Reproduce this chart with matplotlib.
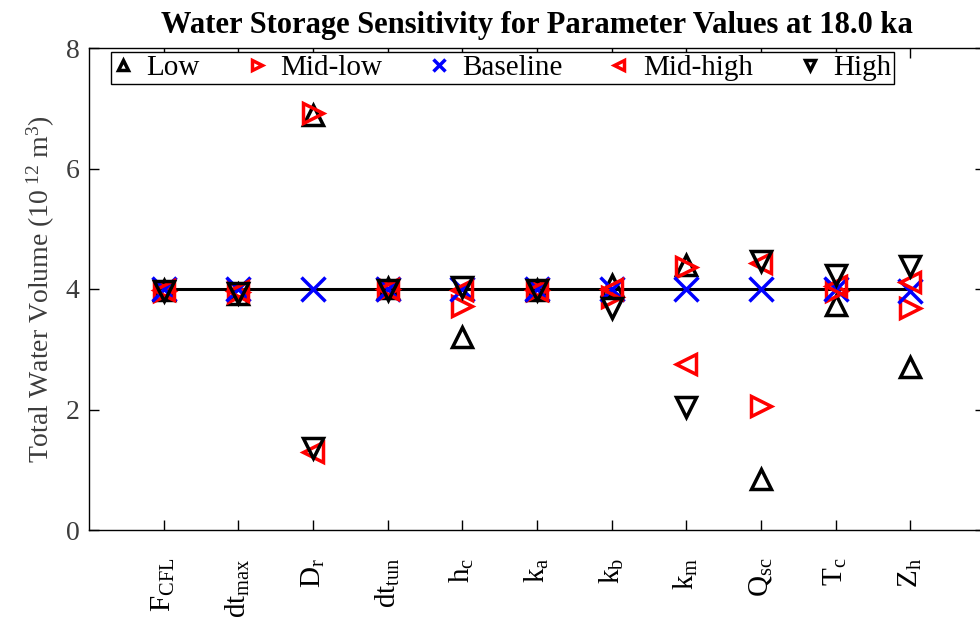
import numpy as np
import matplotlib
matplotlib.use("Agg")
import matplotlib.pyplot as plt

# ------------------------------------------------------------------
# Données (volume total d'eau, 10^12 m^3)
# ------------------------------------------------------------------
params = ["F_{CFL}", "dt_{max}", "D_{r}", "dt_{tun}", "h_{c}", "k_{a}",
          "k_{b}", "k_{m}", "Q_{sc}", "T_{c}", "Z_{h}"]

low      = [3.98, 3.92, 6.88, 4.02, 3.20, 3.98, 4.07, 4.40, 0.85, 3.73, 2.70]
mid_low  = [3.97, 3.95, 6.92, 4.00, 3.72, 3.98, 3.87, 4.37, 2.05, 3.97, 3.69]
baseline = [4.00, 4.00, 4.00, 4.00, 4.00, 4.00, 4.00, 4.00, 4.00, 4.00, 3.97]
mid_high = [3.98, 3.97, 1.30, 4.00, 3.99, 3.98, 4.00, 2.75, 4.43, 4.05, 4.12]
high     = [3.97, 3.93, 1.36, 3.99, 4.03, 3.98, 3.68, 2.04, 4.47, 4.23, 4.39]

ref_value = 4.0   # ligne horizontale de référence

# ------------------------------------------------------------------
plt.rcParams['font.family'] = ['Liberation Serif', 'DejaVu Serif']
plt.rcParams['mathtext.fontset'] = 'custom'
plt.rcParams['mathtext.rm'] = 'Liberation Serif'
plt.rcParams['mathtext.it'] = 'Liberation Serif:italic'
plt.rcParams['mathtext.bf'] = 'Liberation Serif:bold'

grey = '#3c3c3c'

fig = plt.figure(figsize=(9.8, 6.26), dpi=100)
# l'axe de droite sort légèrement de l'image, comme sur l'original
ax = fig.add_axes([89/980, 96/626, 896/980, 482/626])

x = np.arange(1, len(params) + 1)

ax.plot(x, [ref_value]*len(x), color='black', linewidth=2.2, zorder=1)

ms = 14
mew = 2.5
ax.plot(x, low, linestyle='none', marker='^', ms=ms, mew=mew,
        markerfacecolor='none', markeredgecolor='black', label='Low')
ax.plot(x, mid_low, linestyle='none', marker='>', ms=ms, mew=mew,
        markerfacecolor='none', markeredgecolor='red', label='Mid-low')
ax.plot(x, baseline, linestyle='none', marker='x', ms=17, mew=2.5,
        color='blue', label='Baseline')
ax.plot(x, mid_high, linestyle='none', marker='<', ms=ms, mew=mew,
        markerfacecolor='none', markeredgecolor='red', label='Mid-high')
ax.plot(x, high, linestyle='none', marker='v', ms=ms, mew=mew,
        markerfacecolor='none', markeredgecolor='black', label='High')

ax.set_xlim(0, 12)
ax.set_ylim(0, 8)
ax.set_yticks([0, 2, 4, 6, 8])
ax.set_xticks(x)
ax.set_xticklabels([r'$\mathrm{' + p + '}$' for p in params],
                   rotation=90, fontsize=21)
ax.tick_params(direction='in', length=7, width=1, top=True, right=True)
ax.tick_params(axis='x', pad=20)
ax.tick_params(axis='y', labelsize=20, pad=7, labelcolor=grey)
for s in ax.spines.values():
    s.set_linewidth(1.0)

ax.set_ylabel(r'Total Water Volume (10$^{\ 12}$ m$^3$)', fontsize=20,
              labelpad=6, color=grey)
ax.set_title('Water Storage Sensitivity for Parameter Values at 18.0 ka',
             fontsize=22, fontweight='bold', pad=11)

leg = ax.legend(loc='upper left', bbox_to_anchor=(0.025, 0.992), ncol=5,
                fontsize=21, markerscale=0.55, handlelength=0.6,
                handletextpad=0.5, columnspacing=1.65, borderpad=0.1,
                fancybox=False, framealpha=1, edgecolor='black',
                borderaxespad=0)
leg.get_frame().set_linewidth(1.0)

fig.savefig('out.png', dpi=100)
